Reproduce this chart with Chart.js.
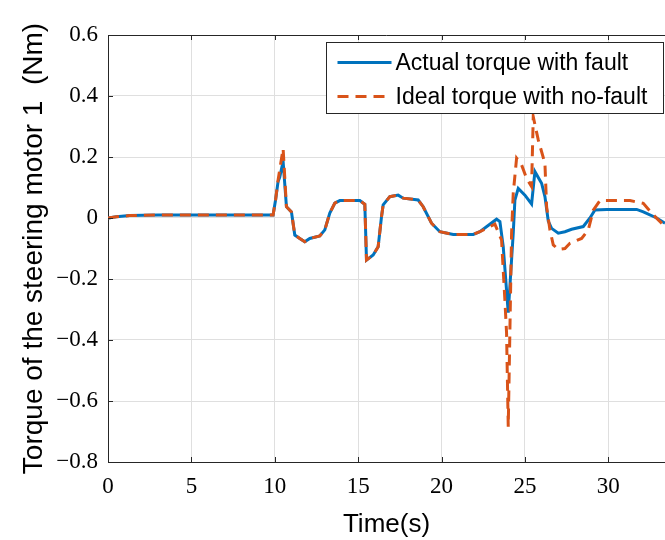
<!DOCTYPE html>
<html>
<head>
<meta charset="utf-8">
<script src="https://cdn.jsdelivr.net/npm/chart.js@4.4.1/dist/chart.umd.min.js"></script>
<style>
  html, body { margin: 0; padding: 0; background: #fff; }
  #wrap { width: 665px; height: 540px; }
</style>
</head>
<body>
<div id="wrap"><canvas id="torqueChart"></canvas></div>
<script>
// values
const actualTime = [0, 0.5, 1.3, 3, 6, 9.9, 10.05, 10.2, 10.3, 10.5, 10.7, 11.0, 11.2, 11.5, 11.8, 12.1, 12.7, 13.0, 13.3, 13.6, 13.9, 15.1, 15.4, 15.5, 15.9, 16.2, 16.4, 16.5, 16.9, 17.4, 17.7, 18.6, 18.9, 19.4, 19.9, 20.7, 21.9, 22.3, 23.3, 23.5, 23.7, 24.0, 24.3, 24.4, 24.6, 25.0, 25.4, 25.6, 26.0, 26.2, 26.4, 26.6, 27.0, 27.4, 27.8, 28.5, 28.9, 29.2, 29.9, 31.7, 32.1, 32.9, 33.4];
const actualTorque = [0, 0.004, 0.008, 0.01, 0.01, 0.01, 0.06, 0.12, 0.134, 0.185, 0.037, 0.02, -0.056, -0.067, -0.078, -0.067, -0.059, -0.039, 0.016, 0.049, 0.057, 0.057, 0.045, -0.138, -0.121, -0.094, 0.004, 0.043, 0.07, 0.075, 0.065, 0.059, 0.037, -0.017, -0.045, -0.054, -0.054, -0.045, -0.004, -0.012, -0.094, -0.31, -0.05, 0.059, 0.097, 0.075, 0.046, 0.152, 0.114, 0.07, -0.01, -0.034, -0.05, -0.045, -0.037, -0.028, 0, 0.026, 0.028, 0.028, 0.02, 0, -0.017];

const idealTime = [0, 0.5, 1.3, 3, 6, 9.9, 10.05, 10.2, 10.5, 10.7, 11.0, 11.2, 11.5, 11.8, 12.1, 12.7, 13.0, 13.3, 13.6, 13.9, 15.1, 15.4, 15.5, 15.9, 16.2, 16.4, 16.5, 16.9, 17.4, 17.7, 18.6, 18.9, 19.4, 19.9, 20.7, 21.9, 22.3, 23.2, 23.6, 23.8, 23.9, 24.0, 24.1, 24.2, 24.3, 24.5, 24.8, 25.1, 25.4, 25.5, 25.8, 26.2, 26.3, 26.5, 26.7, 27.0, 27.4, 27.7, 28.4, 28.8, 29.1, 29.5, 31.3, 32.1, 32.7, 33.4];
const idealTorque = [0, 0.004, 0.008, 0.01, 0.01, 0.01, 0.06, 0.125, 0.228, 0.037, 0.02, -0.056, -0.067, -0.078, -0.067, -0.059, -0.039, 0.016, 0.049, 0.057, 0.057, 0.045, -0.138, -0.121, -0.094, 0.004, 0.043, 0.07, 0.075, 0.065, 0.059, 0.037, -0.017, -0.045, -0.054, -0.054, -0.045, -0.02, -0.072, -0.27, -0.378, -0.684, -0.367, -0.05, 0.081, 0.196, 0.174, 0.13, 0.103, 0.332, 0.256, 0.179, 0.037, -0.039, -0.088, -0.103, -0.1, -0.083, -0.067, -0.039, 0.026, 0.057, 0.057, 0.048, 0.01, -0.028];

const seriesLabels = ['Actual torque with fault', 'Ideal torque with no-fault'];
const yTicks = [-0.8, -0.6, -0.4, -0.2, 0, 0.2, 0.4, 0.6];
const xTicks = [0, 5, 10, 15, 20, 25, 30];

const blue = '#0072BD';
const orange = '#D95319';
const tickFont = { family: "'Liberation Serif', 'DejaVu Serif', serif", size: 23 };
const sansFont = "'Liberation Sans', Arial, sans-serif";

function toPoints(xs, ys) {
    return xs.map((x, i) => ({ x: x, y: ys[i] }));
}

function fmtTick(v) {
    if (Math.abs(v) < 1e-9) return '0';
    return (v < 0 ? '\u2212' : '') + Math.abs(v).toFixed(1);
}

// box frame, inner tick marks and MATLAB-style legend
const framePlugin = {
    id: 'frame',
    afterDatasetsDraw(chart) {
        const ctx = chart.ctx;
        const a = chart.chartArea;
        const xs = chart.scales.x, ys = chart.scales.y;
        ctx.save();
        ctx.strokeStyle = '#262626';
        ctx.lineWidth = 1;
        ctx.beginPath();
        ctx.moveTo(a.left, a.top + 0.5);
        ctx.lineTo(a.right, a.top + 0.5);
        xTicks.forEach(t => {
            const px = Math.round(xs.getPixelForValue(t)) + 0.5;
            ctx.moveTo(px, a.bottom);
            ctx.lineTo(px, a.bottom - 5);
            ctx.moveTo(px, a.top);
            ctx.lineTo(px, a.top + 5);
        });
        yTicks.forEach(t => {
            const py = Math.round(ys.getPixelForValue(t)) + 0.5;
            ctx.moveTo(a.left, py);
            ctx.lineTo(a.left + 5, py);
        });
        ctx.stroke();
        ctx.restore();
    },
    afterDraw(chart) {
        const ctx = chart.ctx;
        const box = { x: 326.5, y: 42.5, w: 337, h: 71 };
        ctx.save();
        ctx.fillStyle = '#fff';
        ctx.fillRect(box.x, box.y, box.w, box.h);
        ctx.strokeStyle = '#262626';
        ctx.lineWidth = 1;
        ctx.strokeRect(box.x, box.y, box.w, box.h);
        ctx.font = '23px ' + sansFont;
        ctx.textBaseline = 'middle';
        chart.data.datasets.forEach((ds, i) => {
            const cy = box.y + 20 + i * 34;
            ctx.strokeStyle = ds.borderColor;
            ctx.lineWidth = 3;
            ctx.setLineDash(ds.borderDash || []);
            ctx.beginPath();
            ctx.moveTo(box.x + 11, cy);
            ctx.lineTo(box.x + 65, cy);
            ctx.stroke();
            ctx.setLineDash([]);
            ctx.fillStyle = '#000';
            ctx.fillText(ds.label, box.x + 69, cy + 1);
        });
        ctx.restore();
    }
};

const ctx = document.getElementById('torqueChart').getContext('2d');
new Chart(ctx, {
    type: 'line',
    data: {
        datasets: [{
            label: seriesLabels[0],
            data: toPoints(actualTime, actualTorque),
            borderColor: blue,
            borderWidth: 3,
            pointRadius: 0,
            tension: 0,
            order: 1
        }, {
            label: seriesLabels[1],
            data: toPoints(idealTime, idealTorque),
            borderColor: orange,
            borderWidth: 3,
            borderDash: [11, 7],
            pointRadius: 0,
            tension: 0,
            order: 0
        }]
    },
    options: {
        responsive: true,
        maintainAspectRatio: false,
        animation: false,
        layout: { padding: { top: 35, right: 0, left: 0, bottom: 0 } },
        plugins: {
            legend: { display: false },
            tooltip: { enabled: false }
        },
        scales: {
            x: {
                type: 'linear',
                min: 0,
                max: 33.4,
                afterBuildTicks: scale => { scale.ticks = xTicks.map(v => ({ value: v })); },
                afterFit: scale => { scale.height = 78; },
                grid: { color: '#dfdfdf', drawTicks: false },
                border: { color: '#262626', width: 1 },
                ticks: { font: tickFont, color: '#000', padding: 11, maxRotation: 0 },
                title: {
                    display: true,
                    text: 'Time(s)',
                    color: '#000',
                    font: { family: sansFont, size: 26 },
                    padding: { top: 0, bottom: 0 }
                }
            },
            y: {
                min: -0.8,
                max: 0.6,
                afterBuildTicks: scale => { scale.ticks = yTicks.map(v => ({ value: v })); },
                afterFit: scale => { scale.width = 108; },
                grid: { color: '#dfdfdf', drawTicks: false },
                border: { color: '#262626', width: 1 },
                ticks: { font: tickFont, color: '#000', padding: 10, callback: v => fmtTick(v) },
                title: {
                    display: true,
                    text: 'Torque of the steering motor 1  (Nm)',
                    color: '#000',
                    font: { family: sansFont, size: 28 },
                    padding: { top: 17, bottom: 0 }
                }
            }
        }
    },
    plugins: [framePlugin]
});
</script>
</body>
</html>
